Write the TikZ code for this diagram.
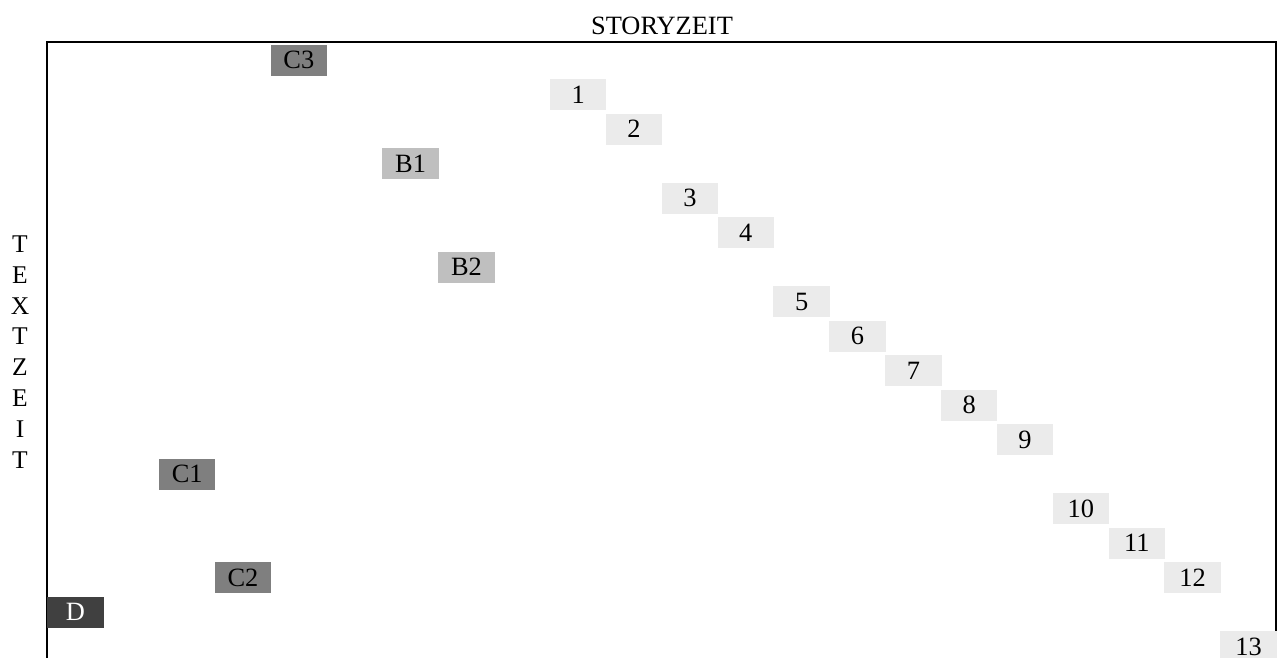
\documentclass[tikz,border=0pt]{standalone}
\usepackage{fontspec}
\setmainfont{Liberation Serif}
\usepackage{tikz}
\usetikzlibrary{positioning}

\definecolor{lightcell}{HTML}{EBEBEB}
\definecolor{midcell}{HTML}{BFBFBF}
\definecolor{darkcell}{HTML}{7F7F7F}
\definecolor{deepcell}{HTML}{404040}

\tikzset{
  cell/.style={rectangle, anchor=north west, inner sep=0pt,
    minimum width=56.5pt, minimum height=31pt,
    font=\fontsize{26.4}{31}\selectfont},
  plain/.style={cell, fill=lightcell},
  backstory/.style={cell, fill=midcell},
  flash/.style={cell, fill=darkcell},
  frame/.style={cell, fill=deepcell, text=white}
}

\begin{document}
\begin{tikzpicture}[x=1pt,y=-1pt]
	\useasboundingbox (0,0) rectangle (1277,657);
	% axes
	\draw[line width=2pt] (47,700) -- (47,42) -- (1276,42) -- (1276,700);
	\node[anchor=base, font=\fontsize{26.4}{31}\selectfont] (story) at (662,34) {STORYZEIT};
	\node[align=center, inner sep=0pt, font=\fontsize{25.5}{30.9}\selectfont] (text) at (20,352)
		{T\\E\\X\\T\\Z\\E\\I\\T};
	% main line
	\foreach\c\r\t in {9/1/1, 10/2/2, 11/4/3, 12/5/4, 13/7/5, 14/8/6, 15/9/7,
		16/10/8, 17/11/9, 18/13/10, 19/14/11, 20/15/12, 21/17/13}
	{\node[plain] (s\t) at ({47+55.86*\c},{44.5+34.5*\r}) {\t};}
	% other strands
	\foreach\c\r\t in {6/3/B1, 7/6/B2}
	{\node[backstory] (s\t) at ({47+55.86*\c},{44.5+34.5*\r}) {\t};}
	\foreach\c\r\t in {2/12/C1, 3/15/C2, 4/0/C3}
	{\node[flash] (s\t) at ({47+55.86*\c},{44.5+34.5*\r}) {\t};}
	\node[frame] (sD) at (47,{44.5+34.5*16}) {D};
\end{tikzpicture}
\end{document}
